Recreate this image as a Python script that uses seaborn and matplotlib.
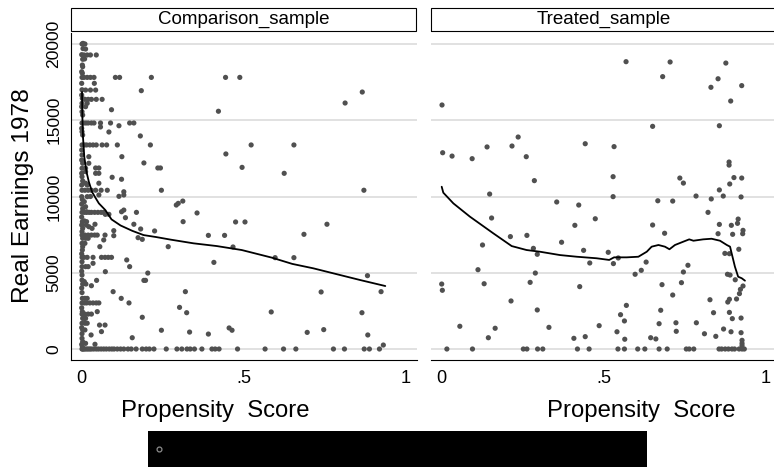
import numpy as np
import pandas as pd
import matplotlib
matplotlib.use("Agg")
import matplotlib.pyplot as plt
import seaborn as sns
from matplotlib.lines import Line2D
from matplotlib.patches import Rectangle
from matplotlib import font_manager

# ---------------- data ----------------
panels = ["Comparison_sample", "Treated_sample"]
y_label = "Real Earnings 1978"
x_label = "Propensity  Score"
y_ticks = [0, 5000, 10000, 15000, 20000]
y_tick_labels = ["0", "5000", "10000", "15000", "20000"]
x_ticks = [0, 0.5, 1]
x_tick_labels = ["0", ".5", "1"]

# Comparison sample: (propensity score, earnings 1978)
comp_column = [
    (0.001, 20000), (0.004, 19700), (0.000, 19300), (0.003, 19000), (0.002, 18620), (0.003, 18510),
    (0.000, 18180), (0.002, 18080), (0.001, 17810), (0.000, 17420), (0.001, 17000), (0.000, 16650),
    (0.002, 16440), (0.001, 16110), (0.000, 15890), (0.001, 15560), (0.003, 15340), (0.001, 14820),
    (0.000, 14470), (0.001, 14250), (0.003, 14030), (0.001, 13380), (0.000, 13050), (0.001, 12720),
    (0.000, 12390), (0.003, 12180), (0.001, 11850), (0.000, 11520), (0.001, 11300), (0.003, 11020),
    (0.000, 10750), (0.001, 10410), (0.000, 9990), (0.002, 9800), (0.000, 9500), (0.003, 9200),
    (0.001, 8960), (0.000, 8650), (0.002, 8350), (0.000, 8130), (0.003, 7910), (0.001, 7700),
    (0.001, 7470), (0.003, 7260), (0.001, 6930), (0.003, 6710), (0.002, 6490), (0.000, 6240),
    (0.001, 6010), (0.001, 5720), (0.001, 5400), (0.000, 5100), (0.001, 4850), (0.001, 4520),
    (0.003, 4260), (0.000, 4000), (0.001, 3700), (0.002, 3320), (0.001, 3020), (0.000, 2700),
    (0.002, 2450), (0.001, 2290), (0.003, 2010), (0.001, 1690), (0.000, 1400), (0.003, 1250),
    (0.001, 1000), (0.001, 700), (0.003, 480), (0.000, 300), (0.002, 150),
]
comp_low_ps = [
    (0.004, 20040), (0.010, 20000), (0.012, 19670), (0.007, 19280), (0.017, 19280), (0.027, 19280),
    (0.045, 19280), (0.009, 19020), (0.007, 17810), (0.017, 17810), (0.027, 17810), (0.038, 17810),
    (0.104, 17810), (0.117, 17810), (0.215, 17810), (0.039, 17420), (0.012, 16980), (0.027, 16980),
    (0.043, 16980), (0.184, 16940), (0.010, 16370), (0.020, 16370), (0.030, 16370), (0.045, 16370),
    (0.063, 16370), (0.017, 16110), (0.012, 15890), (0.092, 15690), (0.006, 14820), (0.013, 14820),
    (0.020, 14820), (0.030, 14820), (0.038, 14820), (0.058, 14820), (0.089, 14820), (0.148, 14820),
    (0.161, 14820), (0.058, 14560), (0.115, 14640), (0.084, 14230), (0.181, 13970), (0.008, 13380),
    (0.015, 13380), (0.025, 13380), (0.035, 13380), (0.045, 13380), (0.063, 13380), (0.077, 13380),
    (0.110, 13380), (0.212, 13380), (0.022, 12610), (0.124, 12610), (0.022, 12180), (0.192, 12200),
    (0.012, 11850), (0.043, 11870), (0.053, 11870), (0.235, 11870), (0.243, 11870), (0.012, 11630),
    (0.043, 11520), (0.053, 11520), (0.094, 11260), (0.123, 11130), (0.012, 10870), (0.017, 10750),
    (0.053, 10870), (0.010, 10410), (0.020, 10410), (0.030, 10410), (0.043, 10410), (0.060, 10410),
    (0.079, 10410), (0.246, 10410), (0.130, 10310), (0.130, 10100), (0.115, 10010), (0.017, 9990),
    (0.027, 10000), (0.053, 10100), (0.292, 9440), (0.298, 9550), (0.312, 9700), (0.008, 9660),
    (0.012, 9330), (0.015, 9000), (0.008, 8960), (0.015, 8960), (0.023, 8960), (0.030, 8960),
    (0.040, 8960), (0.050, 8960), (0.060, 8960), (0.068, 8960), (0.073, 8830), (0.084, 8830),
    (0.123, 9000), (0.130, 9110), (0.169, 8960), (0.135, 8610), (0.313, 8350), (0.008, 8400),
    (0.015, 8350), (0.014, 8130), (0.022, 8020), (0.032, 7910), (0.041, 8180), (0.161, 8180),
    (0.182, 7870), (0.099, 7760), (0.225, 7740), (0.010, 7470), (0.020, 7470), (0.030, 7470),
    (0.040, 7470), (0.048, 7470), (0.072, 7470), (0.099, 7430), (0.012, 7260), (0.020, 7260),
    (0.068, 7150), (0.174, 7300), (0.187, 7190), (0.010, 6930), (0.267, 6710), (0.056, 6710),
    (0.007, 6010), (0.017, 6010), (0.035, 6010), (0.061, 6010), (0.072, 6010), (0.082, 6010),
    (0.092, 6010), (0.139, 5840), (0.035, 5620), (0.012, 5400), (0.020, 5400), (0.148, 5400),
    (0.073, 5070), (0.204, 4980), (0.008, 4420), (0.013, 4260), (0.046, 4500), (0.192, 4500),
    (0.197, 4500), (0.030, 4150), (0.097, 3760), (0.320, 3760), (0.122, 3320), (0.146, 3020),
    (0.008, 3020), (0.015, 3020), (0.025, 3020), (0.035, 3020), (0.045, 3020), (0.053, 3020),
    (0.010, 3320), (0.017, 3320), (0.302, 2730), (0.048, 2450), (0.324, 2380), (0.010, 2290),
    (0.020, 2290), (0.030, 2290), (0.187, 2080), (0.008, 2010), (0.012, 2010), (0.010, 1690),
    (0.017, 1690), (0.055, 1570), (0.072, 1570), (0.010, 1250), (0.061, 1140), (0.246, 1230),
    (0.333, 1110), (0.029, 920), (0.156, 740), (0.012, 370), (0.041, 310),
]
comp_high_ps = [
    (0.444, 17810), (0.488, 17810), (0.866, 16850), (0.813, 16130), (0.422, 15590), (0.523, 13380),
    (0.655, 13380), (0.445, 12790), (0.495, 11910), (0.625, 11520), (0.871, 10410), (0.356, 8920),
    (0.475, 8330), (0.504, 8330), (0.757, 8180), (0.391, 7450), (0.441, 7450), (0.686, 7520),
    (0.467, 6690), (0.408, 5680), (0.597, 5990), (0.655, 5990), (0.882, 4810), (0.739, 3740),
    (0.924, 3760), (0.585, 2430), (0.865, 2380), (0.391, 980), (0.455, 1380), (0.464, 1230),
    (0.696, 1090), (0.747, 1270), (0.883, 920), (0.931, 260),
]
# comparison units with zero 1978 earnings (propensity scores)
comp_zero_ps = [
    0.001, 0.003, 0.006, 0.010, 0.015, 0.020, 0.025, 0.030, 0.037, 0.045, 0.052, 0.060, 0.068,
    0.076, 0.085, 0.093, 0.100, 0.110, 0.120, 0.130, 0.143, 0.153, 0.168, 0.187, 0.199, 0.209,
    0.223, 0.261, 0.294, 0.309, 0.325, 0.335, 0.348, 0.371, 0.402, 0.412, 0.424, 0.481, 0.566,
    0.623, 0.661, 0.777, 0.811, 0.872, 0.888, 0.919,
]

# Treated sample
treat_points = [
    (0.001, 16000), (0.003, 12870), (0.032, 12650), (0.094, 12480), (0.140, 13250), (0.217, 13310),
    (0.236, 13900), (0.261, 12610), (0.443, 13460), (0.286, 11040), (0.148, 10160), (0.355, 9640),
    (0.423, 9440), (0.154, 8590), (0.474, 8540), (0.411, 8110), (0.212, 7370), (0.263, 7450),
    (0.126, 6820), (0.370, 7000), (0.283, 6600), (0.295, 6210), (0.438, 6470), (0.457, 5640),
    (0.112, 5200), (0.289, 4980), (0.000, 4260), (0.002, 3850), (0.131, 4280), (0.273, 4370),
    (0.426, 4090), (0.214, 3150), (0.295, 2560), (0.056, 1490), (0.165, 1360), (0.144, 740),
    (0.331, 1420), (0.408, 700), (0.443, 810), (0.486, 1530),
    (0.569, 18840), (0.705, 18820), (0.877, 18750), (0.682, 17860), (0.853, 17720), (0.831, 17160),
    (0.926, 17270), (0.892, 16260), (0.651, 14600), (0.857, 14640), (0.532, 13270), (0.887, 12260),
    (0.887, 12060), (0.529, 11300), (0.735, 11210), (0.746, 10880), (0.902, 11240), (0.926, 11210),
    (0.889, 10820), (0.857, 10430), (0.529, 9990), (0.785, 10030), (0.869, 10030), (0.924, 9970),
    (0.832, 9840), (0.667, 9720), (0.713, 9700), (0.651, 8130), (0.688, 7590), (0.822, 8960),
    (0.857, 8170), (0.894, 8110), (0.915, 8520), (0.913, 8240), (0.930, 7780), (0.929, 7560),
    (0.853, 7560), (0.898, 7520), (0.514, 6340), (0.545, 5970), (0.530, 5600), (0.917, 6540),
    (0.874, 6270), (0.888, 6250), (0.631, 5700), (0.760, 5490), (0.616, 5160), (0.746, 5050),
    (0.597, 4900), (0.882, 4900), (0.890, 4850), (0.740, 4350), (0.906, 4540), (0.930, 4130),
    (0.922, 3910), (0.680, 4220), (0.919, 3630), (0.713, 3540), (0.828, 3230), (0.888, 3260),
    (0.883, 3080), (0.910, 3280), (0.570, 2860), (0.676, 2540), (0.839, 2380), (0.888, 2400),
    (0.552, 2250), (0.897, 1990), (0.924, 2030), (0.564, 1840), (0.671, 1660), (0.723, 1720),
    (0.786, 1720), (0.870, 1310), (0.541, 1130), (0.724, 1160), (0.811, 1000), (0.893, 1130),
    (0.924, 1070), (0.846, 830), (0.645, 740), (0.661, 660), (0.565, 640), (0.927, 570),
    (0.927, 370), (0.927, 220),
]
treat_zero_ps = [
    0.016, 0.095, 0.252, 0.263, 0.296, 0.312, 0.419, 0.455, 0.544, 0.564, 0.605, 0.627, 0.671,
    0.696, 0.755, 0.764, 0.778, 0.856, 0.864, 0.875, 0.885, 0.896, 0.904, 0.918, 0.927, 0.934,
]

# Lowess smooth curves (as drawn in the reference)
comp_lowess_ps = [0.001, 0.002, 0.004, 0.008, 0.015, 0.022, 0.032, 0.043, 0.053, 0.073, 0.092,
                  0.120, 0.156, 0.191, 0.230, 0.275, 0.345, 0.417, 0.494, 0.587, 0.650, 0.715,
                  0.777, 0.860, 0.937]
comp_lowess_re = [16850, 15300, 13900, 12600, 11600, 10970, 10300, 9900, 9550, 9110, 8500,
                  8100, 7750, 7470, 7340, 7170, 6930, 6750, 6490, 5990, 5580, 5290,
                  4960, 4520, 4130]
treat_lowess_ps = [0.000, 0.005, 0.036, 0.087, 0.159, 0.216, 0.262, 0.303, 0.365, 0.417, 0.478,
                   0.517, 0.532, 0.571, 0.607, 0.633, 0.648, 0.669, 0.689, 0.703, 0.720, 0.746,
                   0.764, 0.777, 0.807, 0.833, 0.859, 0.880, 0.890, 0.895, 0.905, 0.915, 0.926,
                   0.936]
treat_lowess_re = [10640, 10250, 9550, 8680, 7590, 6750, 6490, 6380, 6160, 6050, 5950,
                   5840, 6010, 6010, 6050, 6380, 6710, 6820, 6710, 6540, 6820, 7040,
                   7190, 7100, 7190, 7230, 7100, 6820, 6710, 6270, 5400, 4740, 4640,
                   4480]

# ---------------- build tables ----------------
def frame(pairs, zeros, name):
    ps = [p for p, _ in pairs] + list(zeros)
    re = [r for _, r in pairs] + [0] * len(zeros)
    return pd.DataFrame({"ps": ps, "re78": re, "sample": name})

df = pd.concat([
    frame(comp_column + comp_low_ps + comp_high_ps, comp_zero_ps, panels[0]),
    frame(treat_points, treat_zero_ps, panels[1]),
], ignore_index=True)
lw_df = pd.concat([
    pd.DataFrame({"ps": comp_lowess_ps, "re78": comp_lowess_re, "sample": panels[0]}),
    pd.DataFrame({"ps": treat_lowess_ps, "re78": treat_lowess_re, "sample": panels[1]}),
], ignore_index=True)

# ---------------- style ----------------
sns.set_style("white")
names = {f.name for f in font_manager.fontManager.ttflist}
narrow = "Liberation Sans Narrow" if "Liberation Sans Narrow" in names else "Liberation Sans"
plt.rcParams["font.family"] = [narrow, "DejaVu Sans"]
narrow_scale = 1.0 if narrow == "Liberation Sans Narrow" else 0.84

W, H = 774, 467
fig = plt.figure(figsize=(W / 100, H / 100), dpi=100)
fig.patch.set_facecolor("white")

ax_w, ax_h = 346, 327
ax_bottom_px = 360
lefts = [71, 431]
xlim = (-0.033, -0.033 + ax_w / 324.0)
ylim = (-721, 20721)
marker_color = "#505050"
grid_color = "#DEDEDE"

axes = []
for i, (left, name) in enumerate(zip(lefts, panels)):
    ax = fig.add_axes([left / W, (H - ax_bottom_px) / H, ax_w / W, ax_h / H])
    ax.set_facecolor("white")
    sub = df[df["sample"] == name]
    sns.scatterplot(data=sub, x="ps", y="re78", ax=ax, color=marker_color, s=14,
                    linewidth=0, edgecolor="none", zorder=3)
    sl = lw_df[lw_df["sample"] == name]
    sns.lineplot(data=sl, x="ps", y="re78", ax=ax, sort=False, estimator=None,
                 color="black", linewidth=1.3, zorder=4)
    ax.set_xlim(*xlim)
    ax.set_ylim(*ylim)
    ax.set_xlabel("")
    ax.set_ylabel("")
    ax.set_yticks(y_ticks)
    ax.set_xticks(x_ticks)
    ax.set_xticklabels(x_tick_labels)
    ax.grid(False)
    for yv in y_ticks:
        ax.axhline(yv, color=grid_color, lw=1.3, zorder=1)
    for s in ["top", "right"]:
        ax.spines[s].set_visible(False)
    ax.spines["bottom"].set_color("black")
    ax.spines["bottom"].set_linewidth(0.8)
    ax.tick_params(axis="x", direction="out", length=4, width=0.8, color="black",
                   pad=3, labelsize=15.5 * narrow_scale, labelcolor="black")
    if i == 0:
        ax.spines["left"].set_color("black")
        ax.spines["left"].set_linewidth(0.8)
        ax.set_yticklabels(y_tick_labels)
        ax.tick_params(axis="y", direction="out", length=4, width=0.8, color="black",
                       pad=3, labelsize=15 * narrow_scale, labelcolor="black", labelrotation=90)
        for t in ax.get_yticklabels():
            t.set_va("center")
    else:
        ax.spines["left"].set_visible(False)
        ax.tick_params(axis="y", left=False, labelleft=False)
    axes.append(ax)

# strip titles
for left, name in zip(lefts, panels):
    fig.add_artist(Rectangle((left / W, 1 - 31 / H), 345 / W, 23 / H, transform=fig.transFigure,
                             fill=False, edgecolor="black", linewidth=0.8))
    fig.text((left + 172.5) / W, 1 - 19.5 / H, name, ha="center", va="center",
             fontsize=13.5, family=["Liberation Sans", "DejaVu Sans"], color="black")

# axis titles
fig.text(23.5 / W, 1 - 196 / H, y_label, rotation=90, ha="center", va="center",
         fontsize=21 * narrow_scale, color="black")
for cx in [215, 641]:
    fig.text(cx / W, 1 - 417 / H, x_label, ha="center", va="baseline",
             fontsize=20.5 * narrow_scale, color="black")

# legend box (black, as in the reference)
fig.add_artist(Rectangle((148 / W, 0), 499 / W, 36 / H, transform=fig.transFigure,
                         facecolor="black", edgecolor="black", linewidth=0))
fig.add_artist(Line2D([159 / W], [1 - 449 / H], transform=fig.transFigure, linestyle="none",
                      marker="o", markersize=3.5, markerfacecolor="none",
                      markeredgecolor="#8c8c8c", markeredgewidth=0.9))

fig.savefig("out.png", dpi=100, facecolor="white")
